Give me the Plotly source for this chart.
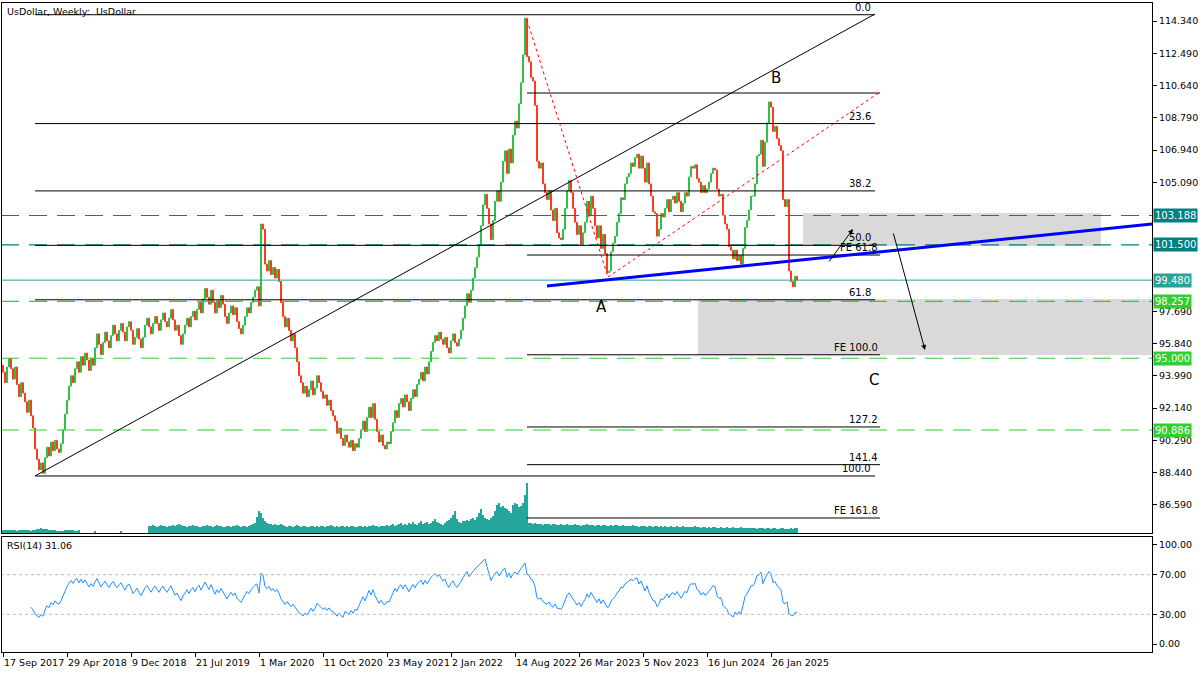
import datetime as dt
import numpy as np
import plotly.graph_objects as go

# ---------------- data ----------------
start_date = dt.date(2017, 9, 17)
first_open = 94.6
closes = [
    94.2,93.6,94.5,95.0,94.4,93.8,94.5,93.5,92.8,93.6,93.0,92.5,91.9,92.6,91.7,
    91.0,89.8,89.2,88.6,89.0,88.4,89.3,
    89.9,89.4,90.2,89.7,90.3,89.8,89.6,90.1,
    90.9,91.8,92.6,93.4,94.0,93.6,94.4,
    94.8,94.2,95.1,94.6,95.3,94.9,94.3,95.0,94.6,
    95.6,96.4,95.8,95.2,95.9,96.5,96.0,95.6,96.3,96.9,96.4,96.0,
    96.6,97.0,96.5,96.0,96.8,97.1,96.6,95.8,96.2,96.7,96.1,95.6,
    96.2,96.9,97.3,96.8,96.4,97.0,97.4,97.0,96.6,97.2,97.6,97.1,96.8,
    97.3,97.8,97.2,96.6,96.9,96.3,95.8,96.4,96.9,97.3,96.8,97.4,97.7,97.2,
    97.8,98.2,97.6,98.4,99.0,98.5,98.1,98.9,98.2,97.6,98.3,97.9,98.6,98.1,
    97.4,97.0,97.6,98.0,97.5,97.9,97.1,96.7,96.4,96.9,97.4,97.9,97.6,98.2,98.5,98.9,
    99.1,98.0,102.7,102.4,100.4,
    100.0,100.6,99.8,100.2,99.6,100.1,99.4,98.2,97.4,
    96.8,97.3,96.6,96.0,96.4,95.6,94.8,94.0,
    93.6,93.0,93.4,92.8,93.2,93.7,92.9,93.3,94.0,93.6,93.1,92.7,92.9,92.3,92.6,92.0,91.7,
    91.4,90.7,91.0,90.4,90.0,90.6,90.2,89.9,90.3,89.7,90.1,89.9,90.4,
    90.9,91.4,90.8,91.6,92.2,91.6,92.4,91.5,
    90.8,90.2,90.6,90.0,89.8,90.2,90.1,90.8,
    91.3,92.0,91.6,92.4,92.7,92.2,92.9,92.5,92.0,92.7,93.2,92.8,93.5,
    93.8,94.2,93.7,94.5,94.1,94.8,95.4,95.9,
    96.3,96.0,96.5,96.1,95.8,96.2,95.6,95.3,96.0,
    96.4,95.9,95.7,96.1,96.6,97.3,
    98.0,98.7,98.2,98.9,99.6,100.2,100.8,101.5,
    102.6,103.8,104.4,103.6,102.7,101.8,102.9,104.0,104.6,104.0,
    105.1,106.3,106.9,105.6,107.0,106.2,107.8,108.6,108.2,109.6,
    110.8,112.4,114.5,112.3,
    112.0,111.1,110.9,109.5,106.3,105.9,
    106.2,105.0,104.5,104.1,104.6,103.5,102.9,103.6,102.2,101.9,
    101.8,102.4,103.6,104.6,105.2,104.5,103.6,102.8,102.1,102.6,101.5,102.2,
    102.8,104.0,103.2,104.3,103.6,102.6,101.9,102.6,101.3,102.1,101.0,99.9,100.0,
    101.1,101.6,102.0,102.8,103.3,104.2,104.1,105.0,105.4,105.6,106.2,106.0,106.5,106.7,105.9,
    106.6,105.9,105.1,106.2,105.0,104.3,103.4,103.3,102.0,
    102.4,103.3,103.1,103.6,104.1,103.4,104.1,104.3,103.9,104.5,104.0,103.4,103.9,104.5,104.3,
    105.4,106.0,105.9,106.1,105.3,105.1,104.5,104.9,104.5,104.7,105.1,105.6,105.9,105.8,104.7,104.3,
    104.4,103.2,102.7,102.4,101.4,101.2,100.7,101.2,100.6,
    100.9,100.4,101.3,102.5,102.9,103.5,104.3,104.3,
    105.0,106.6,106.7,107.5,106.0,107.4,108.5,109.7,109.4,108.0,108.3,107.6,107.2,
    106.9,104.1,103.7,104.1,
    100.0,99.4,99.1,99.7,99.48,
]
volume = [
    3,3,3,3,3,3,3,2,3,3,3,3,3,3,2,3,3,4,4,5,4,4,4,3,3,3,3,2,2,2,2,3,3,3,3,3,2,2,3,
    0,0,0,0,0,0,0,2,0,0,0,0,0,0,0,0,0,0,0,0,2,0,0,0,0,0,0,0,0,0,0,0,0,0,
    7,7,8,7,6,7,8,7,7,6,7,7,8,7,8,9,8,7,7,6,7,7,8,7,7,6,6,7,7,8,7,7,6,7,8,7,7,6,6,7,7,6,7,7,8,7,6,7,7,6,7,8,9,
    10,16,22,20,15,12,10,9,9,8,9,8,8,9,8,
    7,6,7,7,6,7,8,7,6,7, 7,6,6,7,7,6,7,6,7,7, 6,7,7,8,7,6,7,6,7,7,
    6,7,6,7,7,6,6,7,7,6, 7,6,7,7,8,7,7,6,7,7, 7,8,7,8,9,7,8,9,10,8,
    9,8,10,9,11,9,8,10,12,9, 10,11,9,10,12,14,11,10,9,8, 10,12,13,15,18,22,14,11,10,12,
    12,13,12,14,15,13,16,20,24,18,15,14,13,15,17,22,28,30,26,27,25,24,22,20,28,30,29,26,27,30,38,50,
    10,10,9,10,9,9,9,8,9,9, 9,8,9,9,8,8,9,8,8,9, 8,8,8,9,8,8,7,8,8,9,
    8,8,8,7,8,8,7,8,8,7, 7,8,7,8,8,7,7,8,7,7, 7,7,8,7,7,6,7,7,7,6,
    7,7,6,7,7,6,7,6,7,6, 6,7,6,6,7,6,6,7,6,6, 6,6,6,7,6,6,5,6,6,5,
    6,5,6,6,5,5,6,5,5,6, 5,5,6,5,5,5,6,5,5,5, 5,5,5,5,4,5,5,5,4,5,
    5,4,5,5,4,4,5,5,4,4, 4,5,4,5,5,
]
price_ticks = [86.59, 88.44, 90.29, 92.14, 93.99, 95.84, 97.69, 105.09, 106.94, 108.79, 110.64, 112.49, 114.34]
price_labels = [("103.188", 103.188, "#008080"), ("101.500", 101.5, "#008080"),
                ("99.480", 99.48, "#2aa198"), ("98.257", 98.257, "#33cc33"),
                ("95.000", 95.0, "#33cc33"), ("90.886", 90.886, "#33cc33")]
fib_top, fib_bottom = 114.7, 88.25
fib_levels = [0.0, 23.6, 38.2, 50.0, 61.8, 100.0]
fe_levels = [("FE 61.8", 100.92), ("FE 100.0", 95.2), ("127.2", 91.06), ("141.4", 88.9), ("FE 161.8", 85.84)]
tick_weeks = list(range(0, 385, 32))

# ---------------- helpers ----------------
opens = [first_open] + closes[:-1]
n = len(closes)
xs = list(range(n))
highs = [max(o, c) for o, c in zip(opens, closes)]
lows = [min(o, c) for o, c in zip(opens, closes)]

def rsi(vals, p=14):
    v = np.array(vals, float)
    d = np.diff(v)
    up = np.where(d > 0, d, 0.0); dn = np.where(d < 0, -d, 0.0)
    out = [None] * len(v)
    au = up[:p].mean(); ad = dn[:p].mean()
    out[p] = 100 - 100 / (1 + au / ad) if ad else 100
    for i in range(p, len(d)):
        au = (au * (p - 1) + up[i]) / p
        ad = (ad * (p - 1) + dn[i]) / p
        out[i + 1] = 100 - 100 / (1 + au / ad) if ad else 100
    return out

rsi_vals = rsi(closes)

def W(px):  # pixel x -> week index
    return (px - 3) / 2.0

def P(py):  # pixel y -> price
    return 114.34 - (py - 21) * 0.05734

FONT = "DejaVu Sans"
fig = go.Figure()
fig.add_trace(go.Candlestick(
    x=xs, open=opens, high=highs, low=lows, close=closes,
    increasing=dict(line=dict(color="#2fbf4a", width=1), fillcolor="#2fbf4a"),
    decreasing=dict(line=dict(color="#ff3a1c", width=1), fillcolor="#ff3a1c"),
    whiskerwidth=0, xaxis="x", yaxis="y", showlegend=False))
fig.add_trace(go.Bar(x=list(range(len(volume))), y=volume, marker=dict(color="#26a69a", line_width=0),
                     width=0.6, xaxis="x", yaxis="y3", showlegend=False))
fig.add_trace(go.Scatter(x=xs, y=rsi_vals, mode="lines", line=dict(color="#1e90ff", width=1),
                         xaxis="x2", yaxis="y2", showlegend=False))

shapes = []
def hline(x0, x1, y, color, width=1, dash="solid", yref="y", xref="x"):
    shapes.append(dict(type="line", xref=xref, yref=yref, x0=x0, x1=x1, y0=y, y1=y,
                       line=dict(color=color, width=width, dash=dash), layer="above"))

shapes.append(dict(type="rect", xref="x", yref="y", x0=W(803), x1=W(1101), y0=P(246), y1=P(213),
                   fillcolor="#d9d9d9", line_width=0, layer="below"))
shapes.append(dict(type="rect", xref="x", yref="y", x0=W(698), x1=W(1152), y0=P(355), y1=P(299),
                   fillcolor="#d9d9d9", line_width=0, layer="below"))
for txt_, val, col in price_labels:
    if txt_ == "99.480":
        hline(-1, 600, val, col, 1)
    else:
        hline(-1, 600, val, col, 1.2, "18px,10px")
for lv in fib_levels:
    yv = fib_top - (fib_top - fib_bottom) * lv / 100
    hline(W(35), W(875), yv, "black", 1)
hline(W(527), W(880), P(93), "black", 1)
for lbl, yv in fe_levels:
    hline(W(527), W(880), yv, "black", 1)
shapes.append(dict(type="line", xref="x", yref="y", x0=W(35), y0=P(476), x1=W(875), y1=P(14),
                   line=dict(color="black", width=1)))
shapes.append(dict(type="line", xref="x", yref="y", x0=W(527), y0=P(20), x1=W(608), y1=P(277),
                   line=dict(color="red", width=1, dash="dot")))
shapes.append(dict(type="line", xref="x", yref="y", x0=W(608), y0=P(277), x1=W(880), y1=P(92),
                   line=dict(color="red", width=1, dash="dot")))
shapes.append(dict(type="line", xref="x", yref="y", x0=W(547), y0=P(286), x1=W(1152), y1=P(224),
                   line=dict(color="#0000ff", width=3)))
hline(-1, 600, 70, "#bbbbbb", 1, "dot", yref="y2", xref="x2")
hline(-1, 600, 30, "#bbbbbb", 1, "dot", yref="y2", xref="x2")

ann = []
def txt(x, y, s, size=10, xanchor="right", yanchor="bottom", **kw):
    ann.append(dict(x=x, y=y, xref="x", yref="y", text=s, showarrow=False, xanchor=xanchor,
                    yanchor=yanchor, font=dict(family=FONT, size=size, color="black"), **kw))
for lv in fib_levels:
    yv = fib_top - (fib_top - fib_bottom) * lv / 100
    txt(W(873), yv, f"{lv:.1f}")
for lbl, yv in fe_levels:
    txt(W(880), yv, lbl)
txt(W(601), P(307), "A", size=15, xanchor="center", yanchor="middle")
txt(W(776), P(78), "B", size=15, xanchor="center", yanchor="middle")
txt(W(874), P(380), "C", size=15, xanchor="center", yanchor="middle")
for (x0, y0, x1, y1) in [(828, 263, 853, 229), (893, 232, 925, 350)]:
    ann.append(dict(x=W(x1), y=P(y1), ax=W(x0), ay=P(y0), xref="x", yref="y", axref="x", ayref="y",
                    showarrow=True, arrowhead=2, arrowsize=1, arrowwidth=1, arrowcolor="black", text=""))
for s, val, col in price_labels:
    ann.append(dict(x=1.0, y=val, xref="paper", yref="y", text=s, showarrow=False, xanchor="left",
                    xshift=1, bgcolor=col, borderpad=1,
                    font=dict(family=FONT, size=10, color="white")))
ann.append(dict(x=0, y=1, xref="paper", yref="paper", xshift=3, yshift=-1, text="UsDollar, Weekly:  UsDollar",
                showarrow=False, xanchor="left", yanchor="top", font=dict(family=FONT, size=9.5, color="black")))
ann.append(dict(x=0, y=0.1772, xref="paper", yref="paper", xshift=3, yshift=-1, text="RSI(14) 31.06",
                showarrow=False, xanchor="left", yanchor="top", font=dict(family=FONT, size=9.5, color="black")))
for w in tick_weeks:
    lab = (start_date + dt.timedelta(weeks=w)).strftime("%d %b %Y").lstrip("0")
    ann.append(dict(x=w, y=0, xref="x2", yref="paper", text=lab, showarrow=False, xanchor="left",
                    yanchor="top", yshift=-3, xshift=-1, font=dict(family=FONT, size=9.5, color="black")))

xr = [W(2), W(1152)]
axfont = dict(family=FONT, size=9.5, color="black")
fig.update_layout(
    width=1200, height=675, margin=dict(l=2, r=48, t=3, b=23, autoexpand=False),
    paper_bgcolor="white", plot_bgcolor="white", bargap=0,
    shapes=shapes, annotations=ann,
    xaxis=dict(domain=[0, 1], range=xr, anchor="y", showticklabels=False, showgrid=False,
               rangeslider=dict(visible=False), showline=True, mirror=True, linecolor="black",
               zeroline=False, ticks="", automargin=False),
    xaxis2=dict(domain=[0, 1], range=xr, anchor="y2", matches="x", tickvals=tick_weeks,
                showticklabels=False, automargin=False,
                ticks="outside", ticklen=4, tickcolor="black", showgrid=False, showline=True, mirror=True,
                linecolor="black", zeroline=False),
    yaxis=dict(domain=[0.1834, 1.0], range=[P(533), P(3)], side="right", tickvals=price_ticks,
               ticktext=[f"{v:.3f}" for v in price_ticks], ticks="outside", ticklen=4, tickcolor="black",
               showgrid=False, showline=True, mirror=True, linecolor="black", zeroline=False,
               tickfont=axfont, automargin=False),
    yaxis3=dict(domain=[0.1834, 1.0], range=[0, 530], overlaying="y", visible=False),
    yaxis2=dict(domain=[0, 0.1772], range=[-8, 108], side="right", anchor="x2", tickvals=[0, 30, 70, 100],
                ticktext=["0.00", "30.00", "70.00", "100.00"], ticks="outside", ticklen=4, tickcolor="black",
                showgrid=False, showline=True, mirror=True, linecolor="black", zeroline=False,
                tickfont=axfont, automargin=False),
)
fig.write_html("out.html", config={"displayModeBar": False})
with open("out.html", encoding="utf-8") as f:
    html = f.read()
html = html.replace("<head>", "<head><style>html,body{margin:0;padding:0;overflow:hidden}</style>", 1)
with open("out.html", "w", encoding="utf-8") as f:
    f.write(html)
